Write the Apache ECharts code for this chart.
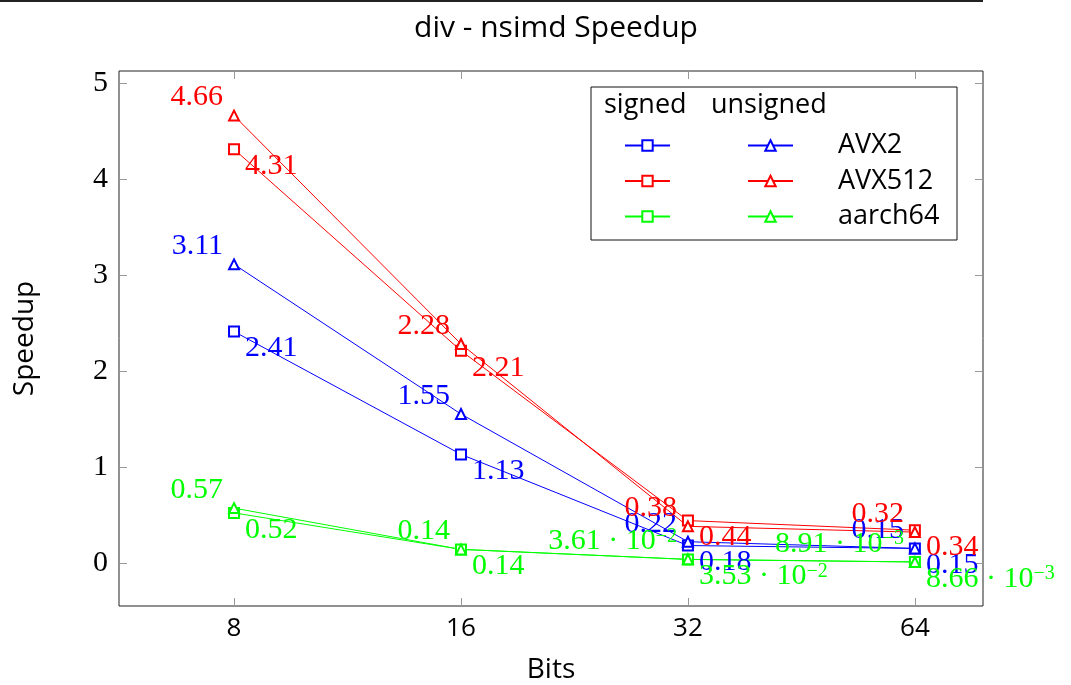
<!DOCTYPE html>
<html>
<head>
<meta charset="utf-8">
<script src="https://cdn.jsdelivr.net/npm/echarts@6/dist/echarts.min.js"></script>
<style>
  html, body { margin: 0; padding: 0; background: #fff; }
  #chart { width: 1071px; height: 685px; }
</style>
</head>
<body>
<div id="chart"></div>
<script>
// data
const bits = [8, 16, 32, 64]
const yTicks = [0, 1, 2, 3, 4, 5]
const avx2Signed = [2.41, 1.13, 0.18, 0.15]
const avx2Unsigned = [3.11, 1.55, 0.22, 0.15]
const avx512Signed = [4.31, 2.21, 0.44, 0.34]
const avx512Unsigned = [4.66, 2.28, 0.38, 0.32]
const aarch64Signed = [0.52, 0.14, 0.0353, 0.00866]
const aarch64Unsigned = [0.57, 0.14, 0.0361, 0.00891]

const blue = '#0000ff'
const red = '#ff0000'
const green = '#00ff00'
const serif = 'Liberation Serif'
const sans = 'Open Sans'

// pgfplots-like number printing
const fmt = (v) => {
  if (v >= 0.1) return v.toFixed(2)
  const e = Math.floor(Math.log10(v))
  const m = (v / Math.pow(10, e)).toFixed(2)
  return m + ' · 10{sup|−' + (-e) + '}'
}

const makeSeries = (name, values, color, signed) => ({
  name: name,
  type: 'line',
  data: bits.map((b, i) => [b, values[i]]),
  symbol: signed ? 'emptyRect' : 'emptyTriangle',
  symbolSize: 10,
  color: color,
  lineStyle: { width: 1, color: color },
  itemStyle: { color: color, borderWidth: 1 },
  label: {
    show: true,
    position: ['50%', '50%'],
    align: signed ? 'left' : 'right',
    verticalAlign: signed ? 'top' : 'bottom',
    offset: signed ? [11, 2] : [-11, -3],
    color: color,
    fontFamily: serif,
    fontSize: 30,
    formatter: (p) => fmt(p.value[1]),
    rich: {
      sup: { fontFamily: serif, fontSize: 20, color: color, verticalAlign: 'top' }
    }
  },
  emphasis: { disabled: true }
})

const chart = echarts.init(document.getElementById('chart'))

const tickStyle = { show: true, inside: true, length: 8, lineStyle: { color: '#999', width: 1 } }
const xTick = Object.assign({ customValues: bits }, tickStyle)
const yTick = Object.assign({ customValues: yTicks }, tickStyle)

const option = {
  animation: false,
  title: {
    text: 'div - nsimd Speedup',
    left: 551,
    top: 8,
    textAlign: 'center',
    textStyle: { fontFamily: sans, fontSize: 30, fontWeight: 'normal', color: '#000' }
  },
  grid: {
    left: 119, right: 88, top: 71, bottom: 79,
    outerBoundsMode: 'none',
    show: true, borderColor: '#222', borderWidth: 1
  },
  legend: [
    {
      data: ['AVX2 signed', 'AVX512 signed', 'aarch64 signed'],
      orient: 'vertical',
      left: 624, top: 132,
      padding: 0,
      itemWidth: 45, itemHeight: 13, itemGap: 8.5,
      formatter: () => ' ',
      textStyle: { fontFamily: sans, fontSize: 27 },
      selectedMode: false
    },
    {
      data: ['AVX2 unsigned', 'AVX512 unsigned', 'aarch64 unsigned'],
      orient: 'vertical',
      left: 747, top: 132,
      padding: 0,
      itemWidth: 45, itemHeight: 13, itemGap: 8.5,
      formatter: (n) => n.replace(' unsigned', ''),
      textStyle: { fontFamily: sans, fontSize: 27, color: '#000', padding: [0, 0, 0, 40] },
      selectedMode: false
    }
  ],
  xAxis: [
    {
      type: 'log', logBase: 2, min: 5.63, max: 78.8,
      name: 'Bits', nameLocation: 'middle', nameGap: 50,
      nameTextStyle: { fontFamily: sans, fontSize: 28, color: '#000' },
      axisLine: { show: false, onZero: false },
      axisTick: xTick,
      splitLine: { show: false },
      axisLabel: {
        margin: 10,
        fontFamily: sans, fontSize: 26, color: '#000',
        customValues: bits,
        formatter: (v) => String(Math.round(v))
      }
    },
    {
      type: 'log', logBase: 2, min: 5.63, max: 78.8, position: 'top',
      axisLine: { show: false, onZero: false },
      axisTick: xTick,
      splitLine: { show: false },
      axisLabel: { show: false }
    }
  ],
  yAxis: [
    {
      type: 'value', min: -0.45, max: 5.125,
      name: 'Speedup', nameLocation: 'middle', nameGap: 80,
      nameTextStyle: { fontFamily: sans, fontSize: 28, color: '#000' },
      axisLine: { show: false, onZero: false },
      axisTick: yTick,
      splitLine: { show: false },
      axisLabel: {
        margin: 11,
        fontFamily: serif, fontSize: 30, color: '#000',
        customValues: yTicks,
        formatter: (v) => String(v)
      }
    },
    {
      type: 'value', min: -0.45, max: 5.125, position: 'right',
      axisLine: { show: false, onZero: false },
      axisTick: yTick,
      splitLine: { show: false },
      axisLabel: { show: false }
    }
  ],
  graphic: [
    { type: 'line', shape: { x1: 0, y1: 1, x2: 983, y2: 1 }, style: { stroke: '#222', lineWidth: 2 } },
    { type: 'rect', z: 3, shape: { x: 591, y: 87, width: 366, height: 153 }, style: { fill: '#fff', stroke: '#111', lineWidth: 1 } },
    { type: 'text', z: 5, left: 604, top: 92, style: { text: 'signed', font: '27px "Open Sans"', fill: '#000' } },
    { type: 'text', z: 5, left: 711, top: 92, style: { text: 'unsigned', font: '27px "Open Sans"', fill: '#000' } }
  ],
  series: [
    makeSeries('AVX2 signed', avx2Signed, blue, true),
    makeSeries('AVX2 unsigned', avx2Unsigned, blue, false),
    makeSeries('AVX512 signed', avx512Signed, red, true),
    makeSeries('AVX512 unsigned', avx512Unsigned, red, false),
    makeSeries('aarch64 signed', aarch64Signed, green, true),
    makeSeries('aarch64 unsigned', aarch64Unsigned, green, false)
  ]
}

chart.setOption(option)
</script>
</body>
</html>
